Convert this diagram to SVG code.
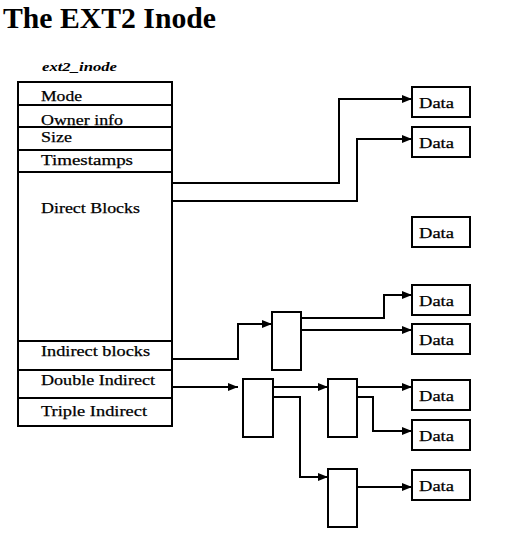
<svg xmlns="http://www.w3.org/2000/svg" width="508" height="533" viewBox="0 0 508 533">
<style>
.bx{fill:#fff;stroke:#000;stroke-width:2}
.ln{fill:none;stroke:#000;stroke-width:2}
.t{font-family:"Liberation Serif","Times New Roman",serif;font-size:15px;fill:#000;stroke:#000;stroke-width:0.25}
.title{font-family:"Liberation Serif","Times New Roman",serif;font-size:30px;font-weight:bold;fill:#000}
.lbl{font-family:"Liberation Serif","Times New Roman",serif;font-size:12px;font-style:italic;font-weight:bold;fill:#000}
</style>
<defs>
<marker id="ah" viewBox="0 0 10 8" refX="10" refY="4" markerWidth="10" markerHeight="8" markerUnits="userSpaceOnUse" orient="auto">
<path d="M0,0 L10,4 L0,8 Z" fill="#000"/>
</marker>
</defs>
<rect width="508" height="533" fill="#fff"/>
<text class="title" x="3" y="28" textLength="213" lengthAdjust="spacingAndGlyphs">The EXT2 Inode</text>
<text class="lbl" x="42" y="71" textLength="75" lengthAdjust="spacingAndGlyphs">ext2_inode</text>

<g id="inode">
<rect class="bx" x="18" y="82" width="154" height="344"/>
<path class="ln" d="M18,105H172M18,127H172M18,150H172M18,172H172M18,341H172M18,370H172M18,398H172"/>
<text class="t" x="41" y="101" textLength="41" lengthAdjust="spacingAndGlyphs">Mode</text>
<text class="t" x="41" y="125" textLength="82" lengthAdjust="spacingAndGlyphs">Owner info</text>
<text class="t" x="41" y="142" textLength="31" lengthAdjust="spacingAndGlyphs">Size</text>
<text class="t" x="41" y="165" textLength="92" lengthAdjust="spacingAndGlyphs">Timestamps</text>
<text class="t" x="41" y="213" textLength="99" lengthAdjust="spacingAndGlyphs">Direct Blocks</text>
<text class="t" x="41" y="356" textLength="109" lengthAdjust="spacingAndGlyphs">Indirect blocks</text>
<text class="t" x="41" y="385" textLength="114" lengthAdjust="spacingAndGlyphs">Double Indirect</text>
<text class="t" x="41" y="416" textLength="106" lengthAdjust="spacingAndGlyphs">Triple Indirect</text>
</g>

<g id="data1"><rect class="bx" x="412" y="87" width="58" height="30"/><text class="t" x="419" y="108" textLength="35" lengthAdjust="spacingAndGlyphs">Data</text></g>
<g id="data2"><rect class="bx" x="412" y="127" width="58" height="30"/><text class="t" x="419" y="148" textLength="35" lengthAdjust="spacingAndGlyphs">Data</text></g>
<g id="data3"><rect class="bx" x="412" y="217" width="58" height="30"/><text class="t" x="419" y="238" textLength="35" lengthAdjust="spacingAndGlyphs">Data</text></g>
<g id="data4"><rect class="bx" x="412" y="285" width="58" height="30"/><text class="t" x="419" y="306" textLength="35" lengthAdjust="spacingAndGlyphs">Data</text></g>
<g id="data5"><rect class="bx" x="412" y="324" width="58" height="30"/><text class="t" x="419" y="345" textLength="35" lengthAdjust="spacingAndGlyphs">Data</text></g>
<g id="data6"><rect class="bx" x="412" y="380" width="58" height="30"/><text class="t" x="419" y="401" textLength="35" lengthAdjust="spacingAndGlyphs">Data</text></g>
<g id="data7"><rect class="bx" x="412" y="420" width="58" height="30"/><text class="t" x="419" y="441" textLength="35" lengthAdjust="spacingAndGlyphs">Data</text></g>
<g id="data8"><rect class="bx" x="412" y="470" width="58" height="30"/><text class="t" x="419" y="491" textLength="35" lengthAdjust="spacingAndGlyphs">Data</text></g>

<g id="ind1"><rect class="bx" x="272" y="312" width="29" height="58"/></g>
<g id="dbl1"><rect class="bx" x="243" y="379" width="30" height="58"/></g>
<g id="dbl2a"><rect class="bx" x="328" y="379" width="29" height="58"/></g>
<g id="dbl2b"><rect class="bx" x="328" y="469" width="29" height="58"/></g>

<g id="connectors">
<path class="ln" marker-end="url(#ah)" d="M172,183H339V99H412"/>
<path class="ln" marker-end="url(#ah)" d="M172,201H357V139H412"/>
<path class="ln" marker-end="url(#ah)" d="M172,359H238V324H272"/>
<path class="ln" marker-end="url(#ah)" d="M301,318H384V295H412"/>
<path class="ln" marker-end="url(#ah)" d="M301,330H412"/>
<path class="ln" marker-end="url(#ah)" d="M172,387H238"/>
<path class="ln" marker-end="url(#ah)" d="M273,387H328"/>
<path class="ln" marker-end="url(#ah)" d="M273,397H300V477H328"/>
<path class="ln" marker-end="url(#ah)" d="M357,387H412"/>
<path class="ln" marker-end="url(#ah)" d="M357,397H373V431H412"/>
<path class="ln" marker-end="url(#ah)" d="M357,487H412"/>
</g>
</svg>
